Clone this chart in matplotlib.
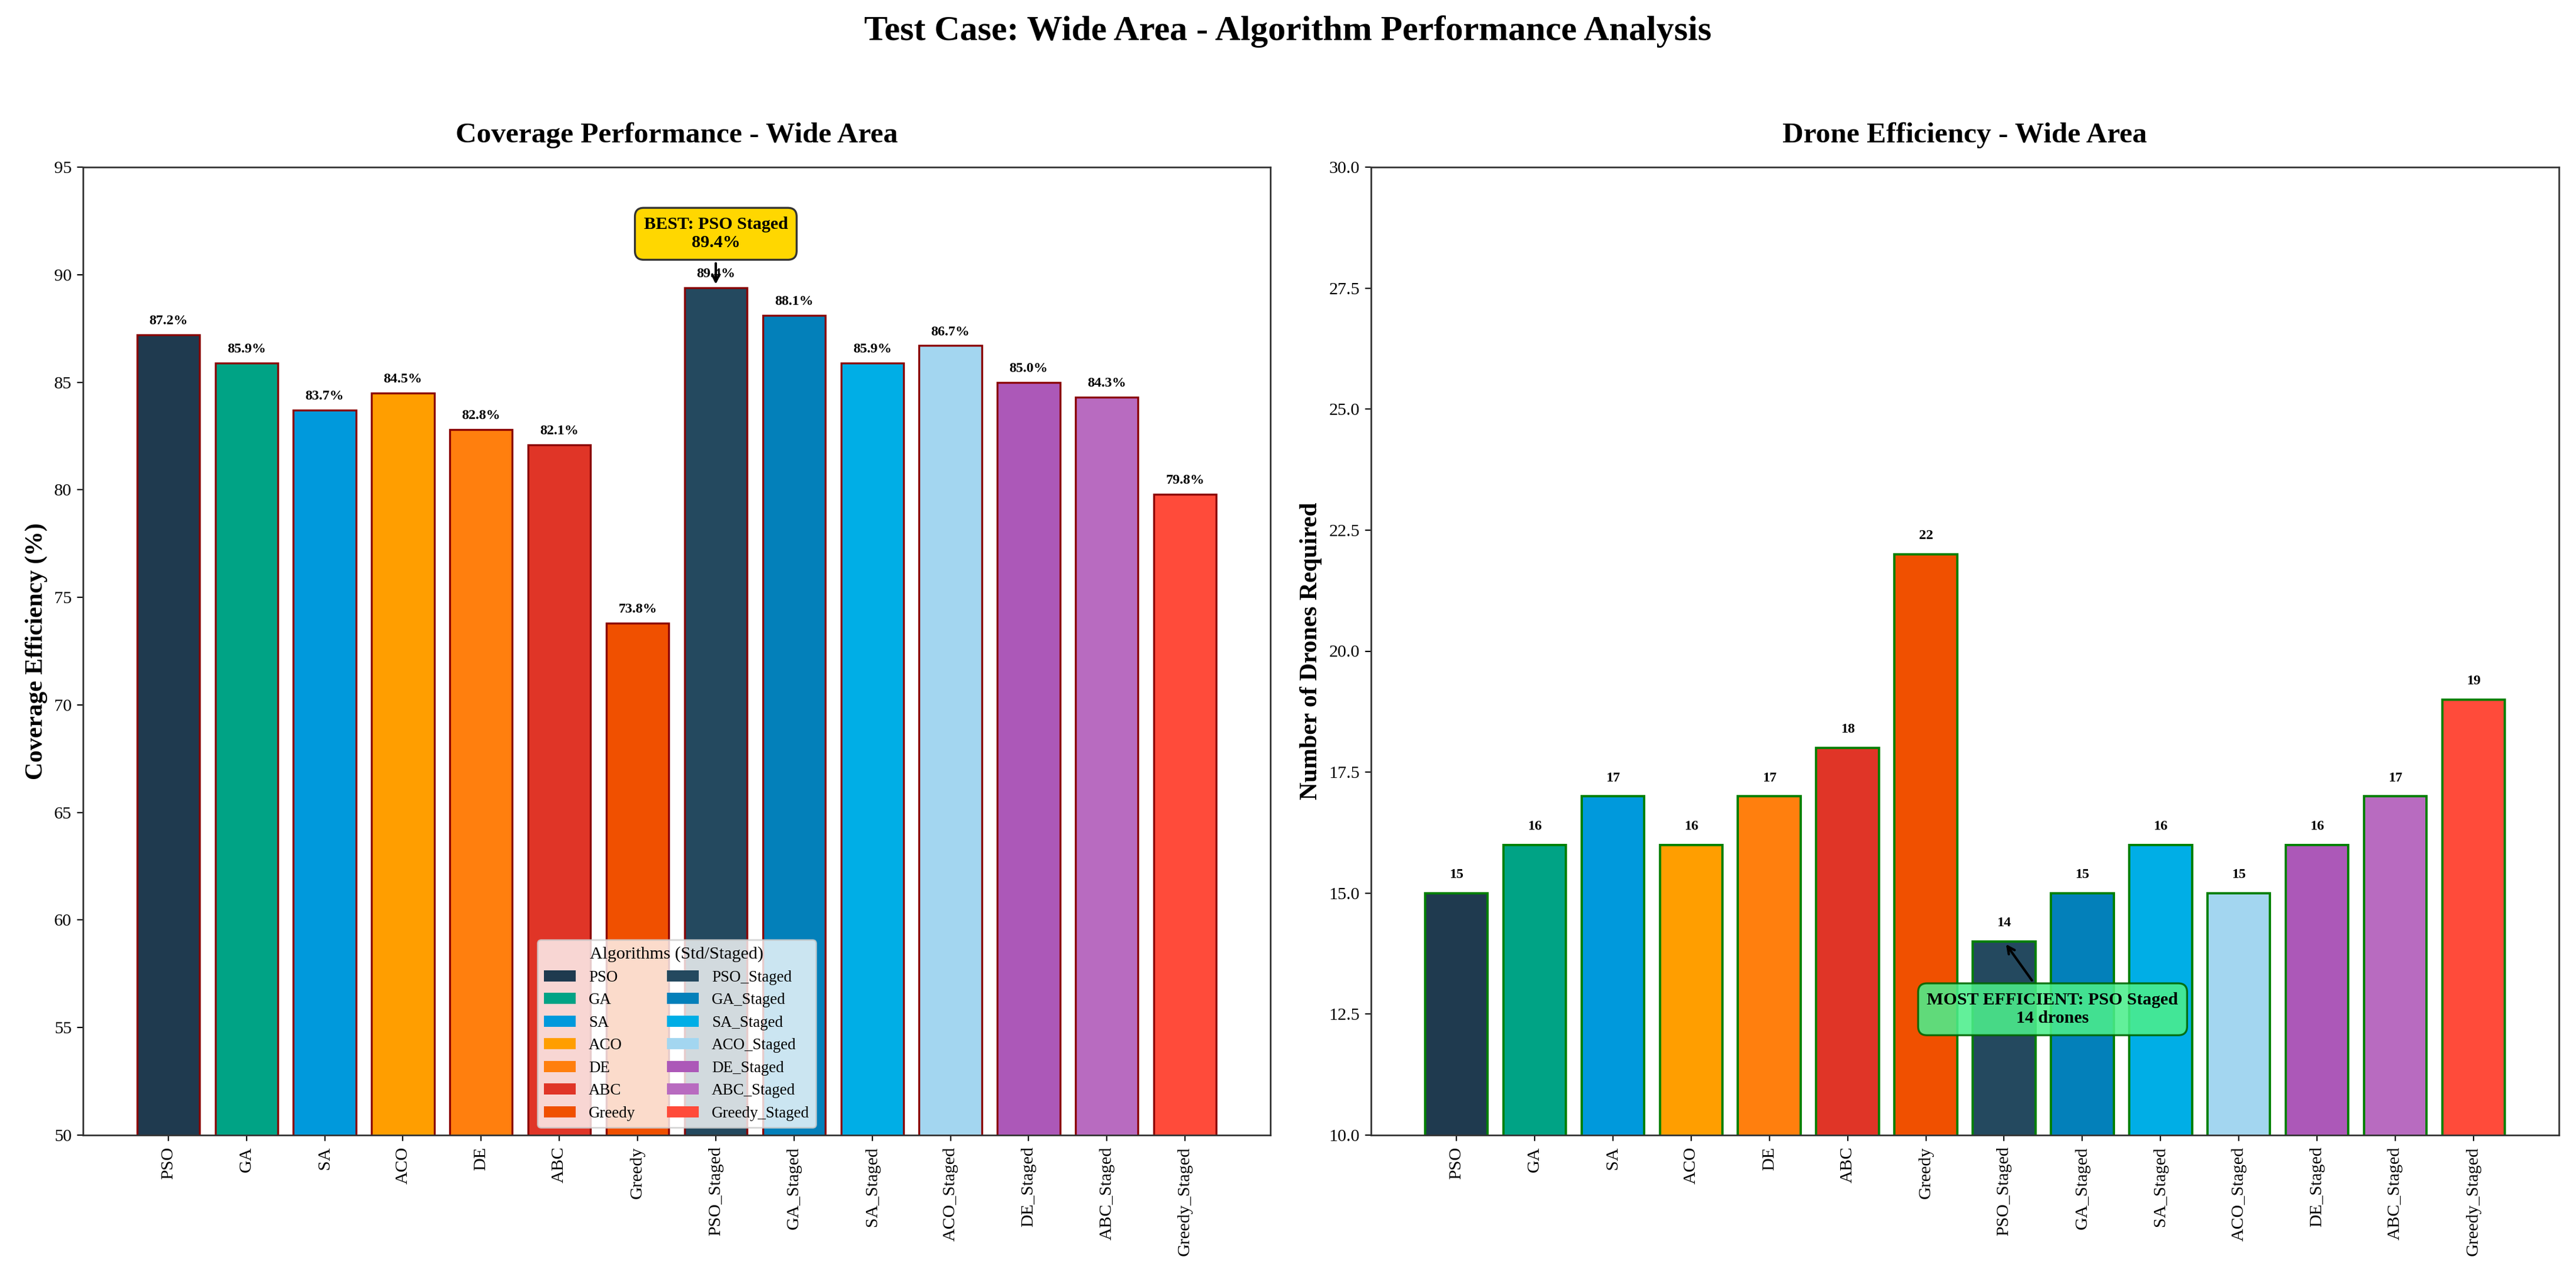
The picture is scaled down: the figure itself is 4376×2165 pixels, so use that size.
import matplotlib
matplotlib.use("Agg")
import matplotlib.pyplot as plt
from matplotlib.patches import Patch

plt.rcParams['font.family'] = ['Liberation Serif', 'DejaVu Serif']

algorithms = ['PSO', 'GA', 'SA', 'ACO', 'DE', 'ABC', 'Greedy',
              'PSO_Staged', 'GA_Staged', 'SA_Staged', 'ACO_Staged',
              'DE_Staged', 'ABC_Staged', 'Greedy_Staged']
coverage = [87.2, 85.9, 83.7, 84.5, 82.8, 82.1, 73.8,
            89.4, 88.1, 85.9, 86.7, 85.0, 84.3, 79.8]
drones = [15, 16, 17, 16, 17, 18, 22,
          14, 15, 16, 15, 16, 17, 19]
colors = ['#1F3A4F', '#00A385', '#0099DC', '#FF9E00', '#FF7F0E', '#E03527', '#F05000',
          '#24495F', '#0380BA', '#00AEE6', '#A3D6F0', '#AC58B8', '#B86BC0', '#FF4B3A']

s = 1.08
W, H, DPI = 4376, 2165, 200
fig = plt.figure(figsize=(W / DPI, H / DPI), dpi=DPI)
ax1 = fig.add_axes([141 / W, 1 - 1929 / H, (2158 - 141) / W, (1929 - 284) / H])
ax2 = fig.add_axes([2329 / W, 1 - 1929 / H, (4347 - 2329) / W, (1929 - 284) / H])

x = list(range(len(algorithms)))

# Left: coverage
ax1.bar(x, coverage, width=0.8, color=colors, edgecolor='darkred', linewidth=1.2)
for xi, v in zip(x, coverage):
    ax1.text(xi, v + 0.35, f'{v:.1f}%', ha='center', va='bottom',
             fontsize=8 * s, fontweight='bold')
ax1.set_ylim(50, 95)
ax1.set_xticks(x)
ax1.set_xticklabels(algorithms, rotation=90, fontsize=10 * s)
ax1.tick_params(axis='y', labelsize=10 * s)
ax1.set_ylabel('Coverage Efficiency (%)', fontsize=15, fontweight='bold')
ax1.set_title('Coverage Performance - Wide Area', fontsize=17.8, fontweight='bold', pad=15)

best_i = coverage.index(max(coverage))
ax1.annotate(f'BEST: PSO Staged\n{coverage[best_i]:.1f}%',
             xy=(best_i, coverage[best_i]), xytext=(best_i, 91.9),
             ha='center', va='center', fontsize=10 * s, fontweight='bold',
             bbox=dict(boxstyle='round,pad=0.5', facecolor='#FFD700', edgecolor='#333333', linewidth=1.2),
             arrowprops=dict(arrowstyle='->', color='black', lw=1.5))

handles = [Patch(facecolor=c, label=a) for c, a in zip(colors, algorithms)]
leg = ax1.legend(handles=handles, loc='lower center', ncol=2, fontsize=9 * s,
                 title='Algorithms (Std/Staged)', title_fontsize=10 * s)

# Right: drones
ax2.bar(x, drones, width=0.8, color=colors, edgecolor='green', linewidth=1.4)
for xi, v in zip(x, drones):
    ax2.text(xi, v + 0.25, f'{v}', ha='center', va='bottom',
             fontsize=8 * s, fontweight='bold')
ax2.set_ylim(10, 30)
ax2.set_xticks(x)
ax2.set_xticklabels(algorithms, rotation=90, fontsize=10 * s)
ax2.tick_params(axis='y', labelsize=10 * s)
ax2.set_ylabel('Number of Drones Required', fontsize=15, fontweight='bold')
ax2.set_title('Drone Efficiency - Wide Area', fontsize=17.8, fontweight='bold', pad=15)

eff_i = drones.index(min(drones))
ax2.annotate(f'MOST EFFICIENT: PSO Staged\n{drones[eff_i]} drones',
             xy=(eff_i, drones[eff_i]), xytext=(eff_i + 0.62, 12.6),
             ha='center', va='center', fontsize=10 * s, fontweight='bold',
             bbox=dict(boxstyle='round,pad=0.5', facecolor='#4CEE8C', alpha=0.88,
                       edgecolor='darkgreen', linewidth=1.2),
             arrowprops=dict(arrowstyle='->', color='black', lw=1.5))

for ax in (ax1, ax2):
    for sp in ax.spines.values():
        sp.set_color('#333333')
        sp.set_linewidth(1.0)

fig.text(0.5, 1 - 68 / H, 'Test Case: Wide Area - Algorithm Performance Analysis',
         ha='center', va='baseline', fontsize=20 * s, fontweight='bold')

fig.savefig('out.png', dpi=DPI)
